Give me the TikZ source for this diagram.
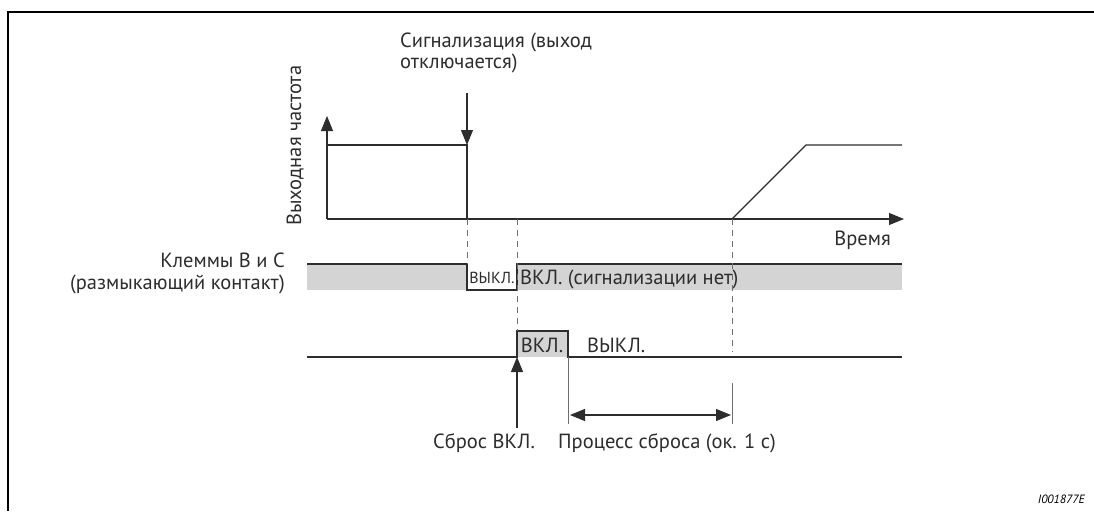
\documentclass[tikz,border=0pt]{standalone}
\usepackage{fontspec}
\setmainfont{PT Sans}
\usetikzlibrary{arrows.meta}
\definecolor{bandgray}{RGB}{212,212,212}
\definecolor{linegray}{RGB}{45,45,45}
\definecolor{dashgray}{RGB}{110,110,110}

\begin{document}
\begin{tikzpicture}[x=1pt,y=-1pt,
	sig/.style={line width=1.1pt,draw=linegray},
	tip/.style={-{Triangle[length=15pt,width=12pt]}},
	guide/.style={draw=dashgray,line width=0.9pt,dash pattern=on 6pt off 5pt},
	lbl/.style={inner sep=0pt,text=linegray,font=\fontsize{20.5}{22}\selectfont}]
	\useasboundingbox (0,0) rectangle (1094,511);
	% рамка
	\coordinate (FrR) at (1094,12);
	\coordinate (FrC) at (8,12);
	\coordinate (FrB) at (8,511);
	\draw[line width=1.4pt] (FrR) -- (FrC) -- (FrB);
	
	% оси частоты
	\coordinate (O) at (327,219);
	\coordinate (Ytop) at (327,116);
	\coordinate (Xend) at (904,219);
	\draw[sig,tip] (O) -- (Ytop);
	\draw[sig,tip] (O) -- (Xend);
	\node[lbl,rotate=90,anchor=base west] (freq) at (301,226) {Выходная частота};
	\node[lbl,anchor=base east] (time) at (891,245) {Время};
	
	% выходная частота
	\coordinate (F1) at (327,145);
	\coordinate (F2) at (467,145);
	\coordinate (F3) at (467,219);
	\coordinate (R0) at (732,219);
	\coordinate (R1) at (806,145);
	\coordinate (R2) at (902,145);
	\draw[sig] (F1) -- (F2) -- (F3);
	\draw[sig] (R0) -- (R1) -- (R2);
	
	% сигнализация
	\node[lbl,anchor=base west,align=left,font=\fontsize{20.5}{19}\selectfont] (alarm) at (400,68) {Сигнализация (выход\\отключается)};
	\coordinate (AlTop) at (467,93);
	\draw[sig,tip] (AlTop) -- (F2);
	
	% клеммы B и C
	\fill[bandgray] (307,264) rectangle (467,290);
	\fill[bandgray] (517,264) rectangle (902,290);
	\coordinate (B0) at (307,264);
	\coordinate (B1) at (467,264);
	\coordinate (B2) at (467,290);
	\coordinate (B3) at (517,290);
	\coordinate (B4) at (517,264);
	\coordinate (B5) at (902,264);
	\draw[sig] (B0) -- (B1) -- (B2) -- (B3) -- (B4) -- (B5);
	\node[lbl,anchor=base east,align=right] (term) at (285,289) {Клеммы B и C\\(размыкающий контакт)};
	\node[lbl,anchor=base,font=\fontsize{16}{17}\selectfont] (off1) at (492,283) {ВЫКЛ.};
	\node[lbl,anchor=base west] (on1) at (520,284) {ВКЛ. (сигнализации нет)};
	
	% сброс
	\coordinate (S0) at (307,357);
	\coordinate (S1) at (517,357);
	\coordinate (S2) at (517,331);
	\coordinate (S3) at (568,331);
	\coordinate (S4) at (568,357);
	\coordinate (S5) at (902,357);
	\fill[bandgray] (S1) rectangle (S3);
	\draw[sig] (S0) -- (S1) -- (S2) -- (S3) -- (S4) -- (S5);
	\node[lbl,anchor=base] (on2) at (542,352) {ВКЛ.};
	\node[lbl,anchor=base west] (off2) at (587,352) {ВЫКЛ.};
	
	% вспомогательные линии
	\coordinate (D1) at (467,264);
	\coordinate (D2) at (517,331);
	\coordinate (D3) at (732,352);
	\draw[guide] (F3) -- (D1);
	\draw[guide] (517,219) -- (D2);
	\draw[guide] (R0) -- (D3);
	
	% время сброса
	\coordinate (RsBot) at (517,428);
	\draw[sig,tip] (RsBot) -- (S1);
	\node[lbl,anchor=base] (reset) at (484,448) {Сброс ВКЛ.};
	\coordinate (P1) at (568,424);
	\coordinate (P2) at (732,383);
	\coordinate (P3) at (732,424);
	\draw[draw=dashgray,line width=0.9pt] (S4) -- (P1);
	\draw[draw=dashgray,line width=0.9pt] (P2) -- (P3);
	\draw[sig,{Triangle[length=15pt,width=12pt]}-{Triangle[length=15pt,width=12pt]}] (570,415) -- (731,415);
	\node[lbl,anchor=base west] (proc) at (558,448) {Процесс сброса (ок. 1 с)};
	
	\node[inner sep=0pt,anchor=base east,font=\fontsize{12}{13}\selectfont\itshape] (code) at (1085,503) {I001877E};
\end{tikzpicture}
\end{document}
